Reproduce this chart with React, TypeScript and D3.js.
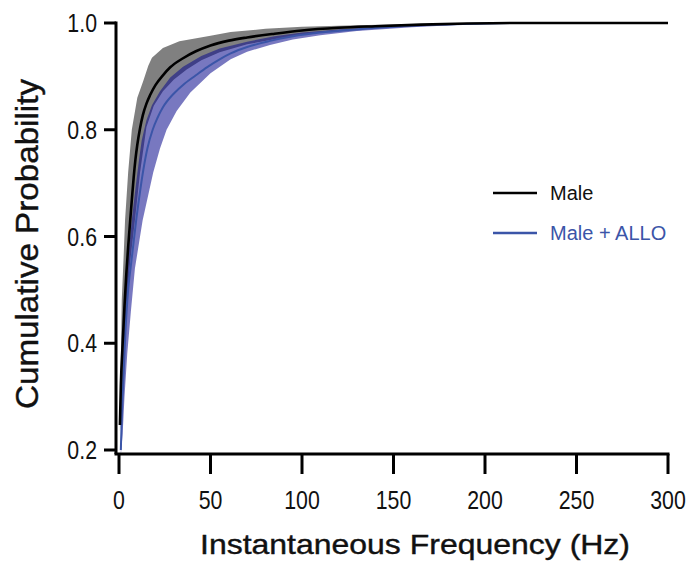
import React from "react";
import * as d3 from "d3";

// Data: [frequency (Hz), cumulative probability]
const maleMean: [number, number][] = [
  [0.5, 0.247], [1, 0.32], [2, 0.4], [3, 0.47], [4, 0.53], [5, 0.58], [6, 0.625], [7, 0.668], [8, 0.71],
  [9, 0.745], [10, 0.772], [11.5, 0.803], [13, 0.827], [15, 0.849], [17, 0.865], [20, 0.884], [24, 0.902],
  [28, 0.917], [35, 0.934], [42, 0.947], [50, 0.958], [60, 0.967], [70, 0.973], [85, 0.98], [100, 0.986],
  [120, 0.991], [140, 0.994], [165, 0.997], [190, 0.999], [215, 1.0], [300, 1.0],
];
const maleUpper: [number, number][] = [
  [0.5, 0.26], [1, 0.36], [1.5, 0.48], [2.5, 0.56], [3.3, 0.63], [5, 0.72], [7, 0.8], [10, 0.86],
  [13.3, 0.892], [16, 0.92], [18, 0.935], [24, 0.953], [33, 0.966], [50, 0.976], [61, 0.983], [80, 0.989],
  [100, 0.993], [130, 0.996], [160, 0.998], [200, 1.0], [300, 1.0],
];
const maleLower: [number, number][] = [
  [0.5, 0.235], [1.5, 0.29], [3, 0.4], [4.5, 0.48], [6, 0.55], [8.7, 0.631], [11.5, 0.72], [15, 0.805],
  [19, 0.845], [24, 0.872], [30, 0.894], [37, 0.913], [45, 0.93], [55, 0.945], [70, 0.96], [90, 0.973],
  [110, 0.982], [140, 0.99], [170, 0.996], [200, 0.999], [215, 1.0], [300, 1.0],
];
const alloMean: [number, number][] = [
  [1, 0.2], [1.5, 0.26], [2.5, 0.34], [3.5, 0.42], [5, 0.5], [6.4, 0.543], [8, 0.59], [9.3, 0.628],
  [11, 0.672], [13.3, 0.725], [15.5, 0.765], [18.4, 0.8], [21, 0.822], [24, 0.842], [30, 0.868],
  [35, 0.884], [42, 0.902], [48, 0.917], [55, 0.932], [61, 0.943], [70, 0.955], [82, 0.966], [95, 0.975],
  [110, 0.982], [130, 0.988], [150, 0.993], [175, 0.997], [200, 0.999], [215, 1.0],
];
const alloUpper: [number, number][] = [
  [1, 0.21], [1.5, 0.3], [2.5, 0.4], [3.5, 0.48], [5, 0.56], [7, 0.631], [9, 0.69], [11, 0.745],
  [12.4, 0.78], [15, 0.818], [18, 0.846], [22.4, 0.872], [28, 0.898], [35, 0.918], [45, 0.938], [55, 0.952],
  [70, 0.965], [85, 0.975], [100, 0.982], [120, 0.988], [150, 0.994], [180, 0.998], [215, 1.0],
];
const alloLower: [number, number][] = [
  [1, 0.19], [2, 0.23], [3, 0.3], [4.5, 0.38], [6.5, 0.46], [8.7, 0.54], [12.9, 0.63], [18.7, 0.72],
  [22.4, 0.765], [26, 0.8], [31.5, 0.835], [39, 0.87], [50, 0.906], [61, 0.932], [70, 0.946],
  [82.5, 0.959], [95, 0.969], [110, 0.977], [130, 0.985], [160, 0.992], [190, 0.997], [215, 1.0],
];
const xTicks = [0, 50, 100, 150, 200, 250, 300];
const yTicks = [0.2, 0.4, 0.6, 0.8, 1.0];
const seriesNames = ["Male", "Male + ALLO"];

const FONT = "'Liberation Sans', Arial, Helvetica, sans-serif";

export default function App() {
  const x = d3.scaleLinear().domain([0, 300]).range([119, 668]);
  const y = d3.scaleLinear().domain([0.2, 1.0]).range([450, 23]);
  const line = d3.line<[number, number]>().x((d) => x(d[0])).y((d) => y(d[1])).curve(d3.curveMonotoneX);
  const band = (up: [number, number][], lo: [number, number][]) =>
    d3.line<[number, number]>().x((d) => x(d[0])).y((d) => y(d[1]))([...up, ...lo.slice().reverse()]) + "Z";

  const axisY = 454;
  const axisX = 116;
  const blue = "#3b55a8";

  return (
    <svg width={692} height={564} style={{ position: "absolute", left: 0, top: 0, background: "#fff" }} fontFamily={FONT}>
      {/* bands */}
      <path d={band(maleUpper, maleLower)} fill="#808080" />
      <path d={band(alloUpper, alloLower)} fill="rgb(10,10,140)" fillOpacity={0.55} />
      <path d={line(alloMean) || ""} fill="none" stroke={blue} strokeWidth={2} />
      <path d={line(maleMean) || ""} fill="none" stroke="#000" strokeWidth={2.6} />

      {/* y axis */}
      <line x1={axisX} x2={axisX} y1={y(1.0) - 1.5} y2={axisY} stroke="#000" strokeWidth={3} />
      {yTicks.map((t) => (
        <g key={t}>
          <line x1={axisX - 12} x2={axisX} y1={y(t)} y2={y(t)} stroke="#000" strokeWidth={3} />
          <text transform={`translate(97,${y(t) + 9}) scale(0.82,1)`} textAnchor="end" fontSize={26} fill="#111">
            {t.toFixed(1)}
          </text>
        </g>
      ))}
      {/* x axis */}
      <line x1={axisX - 1.5} x2={x(300) + 1.5} y1={axisY} y2={axisY} stroke="#000" strokeWidth={3} />
      {xTicks.map((t) => (
        <g key={t}>
          <line x1={x(t)} x2={x(t)} y1={axisY} y2={axisY + 20} stroke="#000" strokeWidth={3} />
          <text transform={`translate(${x(t)},509) scale(0.82,1)`} textAnchor="middle" fontSize={26} fill="#111">
            {t}
          </text>
        </g>
      ))}
      <text x={415} y={554} textAnchor="middle" fontSize={28} fill="#111" stroke="#111" strokeWidth={0.4}
        textLength={430} lengthAdjust="spacingAndGlyphs">
        Instantaneous Frequency (Hz)
      </text>
      <text transform={`translate(38,244) rotate(-90)`} textAnchor="middle" fontSize={31} fill="#111"
        stroke="#111" strokeWidth={0.4} textLength={330} lengthAdjust="spacingAndGlyphs">
        Cumulative Probability
      </text>

      {/* legend */}
      <line x1={493} x2={537} y1={193} y2={193} stroke="#000" strokeWidth={2.5} />
      <text x={550} y={193} dy="0.36em" fontSize={20} fill="#111">{seriesNames[0]}</text>
      <line x1={493} x2={537} y1={233} y2={233} stroke={blue} strokeWidth={2.5} />
      <text x={550} y={233} dy="0.36em" fontSize={20} fill={blue}>{seriesNames[1]}</text>
    </svg>
  );
}
